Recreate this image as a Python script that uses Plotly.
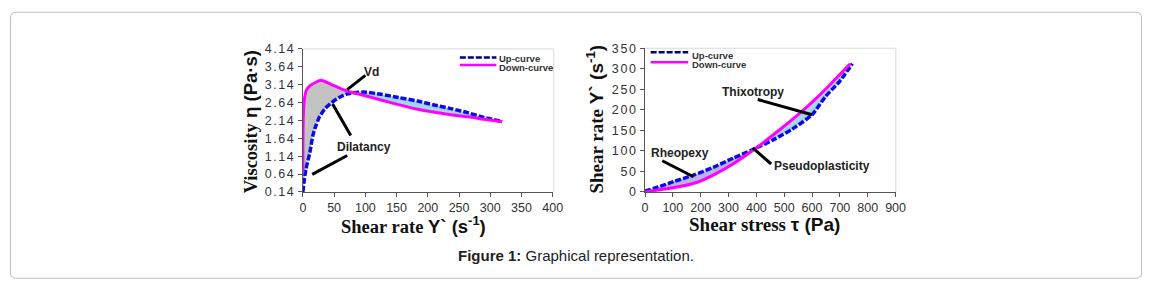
import plotly.graph_objects as go

W, H = 1157, 290

# ---------------- data ----------------
# Left panel: viscosity vs shear rate
up_rate = [0, 2, 5, 11, 16, 21, 26, 35, 47, 58, 69, 85, 100, 125, 153, 184, 210, 237, 265, 290, 319]
up_visc = [0.14, 0.45, 0.79, 1.23, 1.72, 2.00, 2.22, 2.46, 2.65, 2.78, 2.87, 2.92, 2.93, 2.87, 2.78, 2.68, 2.57, 2.47, 2.35, 2.22, 2.11]
down_rate = [0, 0, 1, 3, 6, 12, 20, 29, 45, 63, 80, 100, 125, 153, 184, 206, 237, 265, 290, 319]
down_visc = [0.68, 1.50, 2.38, 2.80, 3.00, 3.12, 3.20, 3.26, 3.15, 3.01, 2.92, 2.83, 2.71, 2.58, 2.45, 2.38, 2.30, 2.24, 2.17, 2.10]
cross_left = (80, 2.92)

# Right panel: shear rate vs shear stress
up_stress = [0, 56, 103, 174, 245, 316, 387, 458, 529, 600, 648, 700, 745]
up_srate = [2, 14, 25, 41, 60, 82, 103, 126, 153, 188, 232, 270, 312]
down_stress = [0, 100, 186, 245, 316, 399, 485, 553, 612, 660, 737]
down_srate = [0, 10, 23, 41, 68, 107, 152, 190, 226, 258, 312]
cross_right = (392, 105)

left_yticks = [0.14, 0.64, 1.14, 1.64, 2.14, 2.64, 3.14, 3.64, 4.14]
left_xticks = [0, 50, 100, 150, 200, 250, 300, 350, 400]
right_yticks = [0, 50, 100, 150, 200, 250, 300, 350]
right_xticks = [0, 100, 200, 300, 400, 500, 600, 700, 800, 900]

UP_COLOR = "#0a0ae6"
UP_LEG = "#000080"
DOWN_COLOR = "#ff00ff"
GRAY_FILL = "#c3c3c3"
BLUE_FILL = "#a3d7e6"
LAV_FILL = "#b9b4e8"
SERIF = "Liberation Serif, Times New Roman, serif"
SANS = "Liberation Sans, Arial, sans-serif"


def fx(p):
    return p / W


def fy(p):
    return 1 - p / H


def poly(ax, ay, bx, by, cross, lo):
    """polygon between curve a (forward) and curve b (reversed) on one side of the crossing"""
    if lo:
        pa = [(x, y) for x, y in zip(ax, ay) if x < cross[0]]
        pb = [(x, y) for x, y in zip(bx, by) if x < cross[0]]
        pts = pa + [cross] + pb[::-1]
    else:
        pa = [(x, y) for x, y in zip(ax, ay) if x > cross[0]]
        pb = [(x, y) for x, y in zip(bx, by) if x > cross[0]]
        pts = [cross] + pa + pb[::-1]
    return [p[0] for p in pts], [p[1] for p in pts]


fig = go.Figure()

# fills left
gx, gy = poly(down_rate, down_visc, up_rate, up_visc, cross_left, True)
fig.add_trace(go.Scatter(x=gx, y=gy, fill="toself", fillcolor=GRAY_FILL, mode="lines",
                         line=dict(width=0), hoverinfo="skip", xaxis="x", yaxis="y"))
bx_, by_ = poly(up_rate, up_visc, down_rate, down_visc, cross_left, False)
fig.add_trace(go.Scatter(x=bx_, y=by_, fill="toself", fillcolor=BLUE_FILL, mode="lines",
                         line=dict(width=0), hoverinfo="skip", xaxis="x", yaxis="y"))
# curves left
fig.add_trace(go.Scatter(x=up_rate, y=up_visc, mode="lines", name="Up-curve",
                         line=dict(color=UP_COLOR, width=3.5, dash="6px,2px", shape="spline", smoothing=0.6),
                         xaxis="x", yaxis="y"))
fig.add_trace(go.Scatter(x=down_rate, y=down_visc, mode="lines", name="Down-curve",
                         line=dict(color=DOWN_COLOR, width=3, shape="spline", smoothing=0.6),
                         xaxis="x", yaxis="y"))

# fills right
lx, ly = poly(up_stress, up_srate, down_stress, down_srate, cross_right, True)
fig.add_trace(go.Scatter(x=lx, y=ly, fill="toself", fillcolor=LAV_FILL, mode="lines",
                         line=dict(width=0), hoverinfo="skip", xaxis="x2", yaxis="y2"))
tx, ty = poly(down_stress, down_srate, up_stress, up_srate, cross_right, False)
fig.add_trace(go.Scatter(x=tx, y=ty, fill="toself", fillcolor=BLUE_FILL, mode="lines",
                         line=dict(width=0), hoverinfo="skip", xaxis="x2", yaxis="y2"))
fig.add_trace(go.Scatter(x=up_stress, y=up_srate, mode="lines", name="Up-curve",
                         line=dict(color=UP_COLOR, width=3.5, dash="6px,2px", shape="spline", smoothing=0.6),
                         xaxis="x2", yaxis="y2"))
fig.add_trace(go.Scatter(x=down_stress, y=down_srate, mode="lines", name="Down-curve",
                         line=dict(color=DOWN_COLOR, width=3, shape="spline", smoothing=0.6),
                         xaxis="x2", yaxis="y2"))

tickfont = dict(family=SANS, size=12.5, color="#333333")
axis_common = dict(showgrid=False, zeroline=False, showline=True, linecolor="#555555", linewidth=1,
                   ticks="outside", ticklen=4, tickcolor="#555555", tickfont=tickfont,
                   mirror=False, fixedrange=True)


def spaced(v):
    return '<span style="letter-spacing:1.6px;font-size:12.5px">' + v + "</span>"


fig.update_layout(
    width=W, height=H, margin=dict(l=0, r=0, t=0, b=0),
    paper_bgcolor="white", plot_bgcolor="white", showlegend=False,
    xaxis=dict(domain=[fx(303.3), fx(556)], range=[0, 400], tickvals=left_xticks, anchor="y", **axis_common),
    yaxis=dict(domain=[fy(194.3), fy(44)], range=[0.14, 4.14], tickvals=left_yticks,
               ticktext=[spaced(f"{v:.2f}") for v in left_yticks], anchor="x", **axis_common),
    xaxis2=dict(domain=[fx(649.3), fx(902.7)], range=[0, 900], tickvals=right_xticks, anchor="y2", **axis_common),
    yaxis2=dict(domain=[fy(194.3), fy(43.3)], range=[0, 350], tickvals=right_yticks,
                ticktext=[spaced(str(v)) for v in right_yticks], anchor="x2", **axis_common),
)

shapes = []
# light plot-area borders (top/right)
for x0, x1, y0, y1 in [(303.3, 557, 44, 194.3), (649.3, 903, 43.3, 194.3)]:
    shapes.append(dict(type="line", xref="paper", yref="paper", x0=fx(x0), x1=fx(x1), y0=fy(y0), y1=fy(y0),
                       line=dict(color="#d8d8d8", width=1)))
    shapes.append(dict(type="line", xref="paper", yref="paper", x0=fx(x1), x1=fx(x1), y0=fy(y0), y1=fy(y1),
                       line=dict(color="#d8d8d8", width=1)))

# callout lines
for (x0, y0, x1, y1) in [(71, 3.00, 100, 3.40), (47.5, 2.60, 76.6, 1.72), (71, 1.16, 15, 0.63)]:
    shapes.append(dict(type="line", xref="x", yref="y", x0=x0, y0=y0, x1=x1, y1=y1,
                       line=dict(color="black", width=3)))
for (x0, y0, x1, y1) in [(405, 225, 600, 188), (62, 76, 174, 37), (387, 107, 453, 68)]:
    shapes.append(dict(type="line", xref="x2", yref="y2", x0=x0, y0=y0, x1=x1, y1=y1,
                       line=dict(color="black", width=3)))

# manual legends
for (x0, x1, yu, yd) in [(462, 499, 53, 61), (655, 693, 47.5, 58)]:
    shapes.append(dict(type="line", xref="paper", yref="paper", x0=fx(x0), x1=fx(x1), y0=fy(yu), y1=fy(yu),
                       line=dict(color=UP_LEG, width=2.5, dash="6px,2px")))
    shapes.append(dict(type="line", xref="paper", yref="paper", x0=fx(x0), x1=fx(x1), y0=fy(yd), y1=fy(yd),
                       line=dict(color=DOWN_COLOR, width=2.5)))

# outer rounded frame
L, T, R, B, r = 7.5, 5.5, 1151.5, 285, 6
path = (f"M {fx(L + r)},{fy(T)} L {fx(R - r)},{fy(T)} Q {fx(R)},{fy(T)} {fx(R)},{fy(T + r)} "
        f"L {fx(R)},{fy(B - r)} Q {fx(R)},{fy(B)} {fx(R - r)},{fy(B)} "
        f"L {fx(L + r)},{fy(B)} Q {fx(L)},{fy(B)} {fx(L)},{fy(B - r)} "
        f"L {fx(L)},{fy(T + r)} Q {fx(L)},{fy(T)} {fx(L + r)},{fy(T)} Z")
shapes.append(dict(type="path", xref="paper", yref="paper", path=path, line=dict(color="#bdbdbd", width=1)))
fig.update_layout(shapes=shapes)

ann = []


def pann(text, x, y, size, angle=0, family=SANS, color="#111111", xanchor="center"):
    ann.append(dict(text=text, x=fx(x), y=fy(y), xref="paper", yref="paper", showarrow=False,
                    textangle=angle, xanchor=xanchor, yanchor="middle",
                    font=dict(family=family, size=size, color=color)))


def sr(t, size):
    return f'<span style="font-family:{SERIF};font-size:{size}px">{t}</span>'


# axis titles
pann("<b>" + sr("Viscosity", 18.5) + " η (Pa·s)</b>", 250, 121, 18.5, angle=-90)
pann("<b>" + sr("Shear rate ", 18.5) + "Y` (s<sup>-1</sup>)</b>", 415, 229, 18.5)
pann("<b>" + sr("Shear rate ", 19) + "Y` (s<sup>-1</sup>)</b>", 599, 118, 19, angle=-90)
pann("<b>" + sr("Shear stress ", 19) + "τ (Pa)</b>", 770, 229, 19)

# legend texts
pann("<b>Up-curve</b>", 500, 54, 9.5, xanchor="left", color="#333333")
pann("<b>Down-curve</b>", 500, 63.5, 9.5, xanchor="left", color="#333333")
pann("<b>Up-curve</b>", 695, 50.5, 9.5, xanchor="left", color="#333333")
pann("<b>Down-curve</b>", 695, 60.5, 9.5, xanchor="left", color="#333333")

# callout labels (data coordinates)
for text, x, y, xr, yr in [("Vd", 110, 3.49, "x", "y"), ("Dilatancy", 97.6, 1.39, "x", "y"),
                           ("Thixotropy", 387, 243, "x2", "y2"), ("Rheopexy", 127, 95, "x2", "y2"),
                           ("Pseudoplasticity", 637, 62, "x2", "y2")]:
    ann.append(dict(text=f"<b>{text}</b>", x=x, y=y, xref=xr, yref=yr, showarrow=False,
                    font=dict(family=SANS, size=12, color="#222222")))

# caption
pann("<b>Figure 1:</b> Graphical representation.", 580, 261, 15, color="#222222")

fig.update_layout(annotations=ann)
fig.write_html("out.html", config={"displayModeBar": False},
               post_script="document.body.style.margin='0px';document.body.style.overflow='hidden';")
